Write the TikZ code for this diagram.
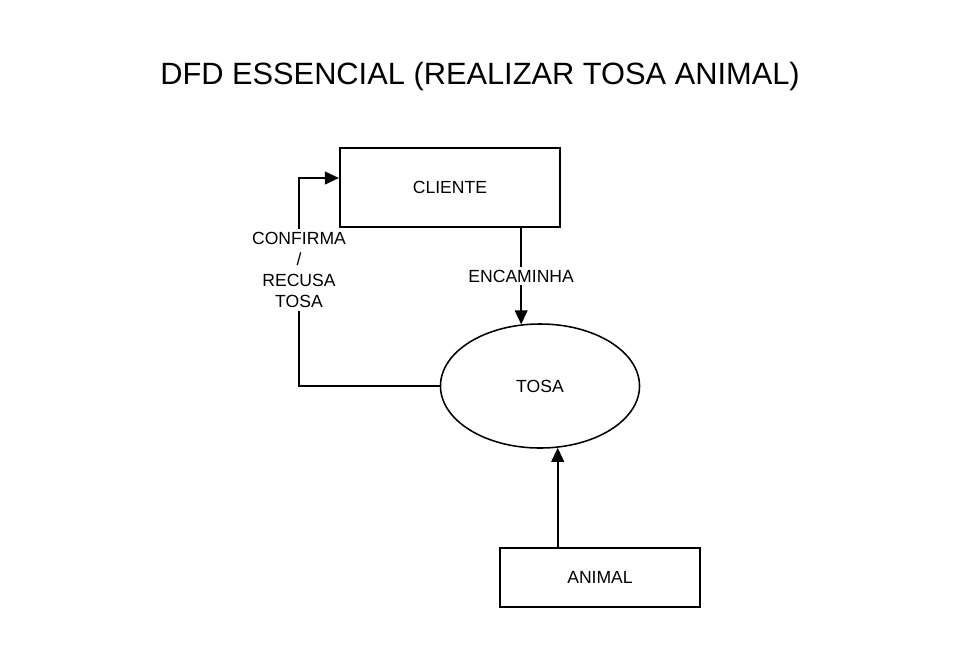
\documentclass[tikz,border=0pt]{standalone}
\usepackage{fontspec}
\setmainfont{Liberation Sans}
\usetikzlibrary{arrows.meta,shapes.geometric}

\begin{document}
\begin{tikzpicture}[x=0.025cm,y=-0.025cm,
        entidade/.style={draw,line width=1.4pt,font=\fontsize{12.5}{15}\selectfont},
        processo/.style={draw,ellipse,line width=1.1pt,font=\fontsize{12.5}{15}\selectfont,
            minimum width=4.975cm,minimum height=3.1cm},
        fluxo/.style={line width=1.4pt,-{Triangle[length=10pt,width=9pt]}},
        rotulo/.style={fill=white,inner sep=2pt,align=center,font=\fontsize{12.5}{15}\selectfont}]
        \useasboundingbox (0,0) rectangle (960,647);
        \node[font=\fontsize{21.9}{26}\selectfont] (titulo) at (480,77) {DFD ESSENCIAL (REALIZAR TOSA ANIMAL)};
        \node[entidade,minimum width=5.5cm,minimum height=1.975cm] (cliente) at (450,187.5) {CLIENTE};
        \node[processo] (tosa) at (540,386) {TOSA};
        \node[entidade,minimum width=5cm,minimum height=1.475cm] (animal) at (600,577.5) {ANIMAL};
        \coordinate (volta) at (299,178);
        \draw[fluxo] (cliente.south -| tosa.107) -- node[rotulo] (encaminha) {ENCAMINHA} (tosa.107);
        \draw[fluxo] (animal.north -| tosa.-74.5) -- (tosa.-74.5);
        \draw[fluxo] (tosa.west) -| (volta) -- (volta -| cliente.west);
        \node[rotulo] (confirma) at (299,270) {CONFIRMA\\/\\RECUSA\\TOSA};
    \end{tikzpicture}
\end{document}
